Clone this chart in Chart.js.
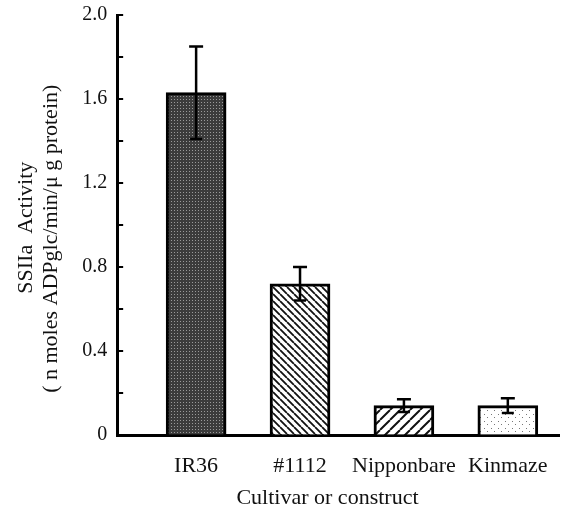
<!DOCTYPE html>
<html>
<head>
<meta charset="utf-8">
<script src="https://cdn.jsdelivr.net/npm/chart.js@4/dist/chart.umd.min.js"></script>
<style>
  body { margin: 0; background: #fff; }
  #wrap { width: 566px; height: 510px; }
</style>
</head>
<body>
<div id="wrap"><canvas id="myChart"></canvas></div>
<script>
const cultivars = ["IR36", "#1112", "Nipponbare", "Kinmaze"];
const positions = [1, 2, 3, 4];
const activity = [1.63, 0.72, 0.14, 0.14];
const errors = [0.22, 0.08, 0.03, 0.035];
const yLabelStep = 0.4;

const serif = "'Liberation Serif', 'DejaVu Serif', serif";

// fill patterns for the bars
function makePattern(kind) {
  const c = document.createElement('canvas');
  const ctx = c.getContext('2d');
  if (kind === 'dark') {
    c.width = 3; c.height = 3;
    ctx.fillStyle = '#3c3c3c';
    ctx.fillRect(0, 0, 3, 3);
    ctx.fillStyle = '#9a9a9a';
    ctx.fillRect(0, 0, 1, 1);
  } else if (kind === 'back' || kind === 'fwd') {
    const s = kind === 'back' ? 7 : 10;
    c.width = s; c.height = s;
    ctx.fillStyle = '#fff';
    ctx.fillRect(0, 0, s, s);
    ctx.strokeStyle = '#111';
    ctx.lineWidth = kind === 'back' ? 1.8 : 2;
    ctx.beginPath();
    if (kind === 'back') {
      for (let k = -1; k <= 1; k++) { ctx.moveTo(k * s, 0); ctx.lineTo(k * s + s, s); }
    } else {
      for (let k = -1; k <= 1; k++) { ctx.moveTo(k * s, s); ctx.lineTo(k * s + s, 0); }
    }
    ctx.stroke();
  } else {
    c.width = 7; c.height = 7;
    ctx.fillStyle = '#fff';
    ctx.fillRect(0, 0, 7, 7);
    ctx.fillStyle = '#777';
    ctx.fillRect(1, 1, 1, 1);
    ctx.fillRect(4, 4, 1, 1);
  }
  return ctx.createPattern(c, 'repeat');
}

const barFills = [makePattern('dark'), makePattern('back'), makePattern('fwd'), makePattern('dots')];

const errorBars = {
  id: 'errorBars',
  afterDatasetsDraw(chart) {
    const ctx = chart.ctx;
    const y = chart.scales.y;
    const meta = chart.getDatasetMeta(0);
    ctx.save();
    ctx.strokeStyle = '#000';
    ctx.lineWidth = 2.5;
    meta.data.forEach((bar, i) => {
      const top = y.getPixelForValue(activity[i] + errors[i]);
      const bot = y.getPixelForValue(activity[i] - errors[i]);
      ctx.beginPath();
      ctx.moveTo(bar.x, top); ctx.lineTo(bar.x, bot);
      ctx.moveTo(bar.x - 7, top); ctx.lineTo(bar.x + 7, top);
      ctx.moveTo(bar.x - 6, bot); ctx.lineTo(bar.x + 6, bot);
      ctx.stroke();
    });
    ctx.restore();
  }
};

// inward tick marks on the y axis
const innerTicks = {
  id: 'innerTicks',
  afterDraw(chart) {
    const ctx = chart.ctx;
    const y = chart.scales.y;
    const left = chart.chartArea.left;
    ctx.save();
    ctx.strokeStyle = '#000';
    ctx.lineWidth = 2;
    y.ticks.forEach(t => {
      const py = y.getPixelForValue(t.value);
      ctx.beginPath();
      ctx.moveTo(left, py); ctx.lineTo(left + 6, py);
      ctx.stroke();
    });
    ctx.restore();
  }
};

new Chart('myChart', {
  type: 'bar',
  data: {
    datasets: [{
      data: positions.map((p, i) => ({ x: p, y: activity[i] })),
      backgroundColor: barFills,
      borderColor: '#000',
      borderWidth: 3,
      barThickness: 60
    }]
  },
  plugins: [errorBars, innerTicks],
  options: {
    responsive: true,
    maintainAspectRatio: false,
    animation: false,
    layout: { padding: { top: 0, right: 4, left: 14, bottom: 1 } },
    plugins: { legend: { display: false }, tooltip: { enabled: false } },
    scales: {
      x: {
        type: 'linear',
        offset: false,
        min: 0.24,
        max: 4.5,
        afterBuildTicks: s => { s.ticks = positions.map(v => ({ value: v })); },
        afterFit: s => { s.height = 74; },
        grid: { display: true, drawOnChartArea: false, drawTicks: false, color: 'rgba(0,0,0,0)' },
        border: { display: true, color: '#000', width: 3 },
        ticks: {
          callback: v => cultivars[positions.indexOf(v)],
          color: '#111',
          padding: 18,
          maxRotation: 0,
          autoSkip: false,
          font: { family: serif, size: 22 }
        },
        title: {
          display: true,
          text: 'Cultivar or construct    ',
          color: '#111',
          padding: { top: 9, bottom: 0 },
          font: { family: serif, size: 22, lineHeight: 1.0 }
        }
      },
      y: {
        min: 0,
        max: 2,
        afterFit: s => { s.paddingTop = 15; },
        grid: { display: true, drawOnChartArea: false, drawTicks: false, color: 'rgba(0,0,0,0)' },
        border: { display: true, color: '#000', width: 3 },
        ticks: {
          stepSize: 0.2,
          color: '#111',
          padding: 10,
          font: { family: serif, size: 20 },
          callback: v => {
            const r = Math.round(v * 10) / 10;
            if (Math.abs(r / yLabelStep - Math.round(r / yLabelStep)) > 1e-6) return '';
            return r === 0 ? '0' : r.toFixed(1);
          }
        },
        title: {
          display: true,
          text: ['SSIIa  Activity ', '( n moles ADPglc/min/\u03bc g protein)     '],
          color: '#111',
          padding: { top: 0, bottom: 8 },
          font: { family: serif, size: 22, lineHeight: 1.14 }
        }
      }
    }
  }
});
</script>
</body>
</html>
